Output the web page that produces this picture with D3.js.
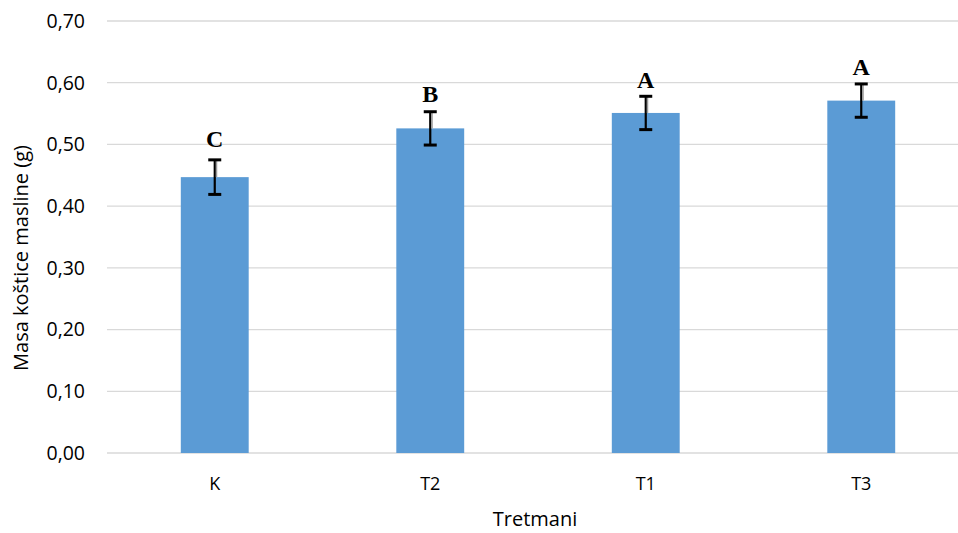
<!DOCTYPE html>
<html>
<head>
<meta charset="utf-8">
<script src="https://cdn.jsdelivr.net/npm/d3@7"></script>
<style>
  body { margin: 0; background: #fff; }
  text { font-family: "Open Sans", sans-serif; fill: #000; }
</style>
</head>
<body>
<svg id="chart" width="958" height="533"></svg>
<script>
// data
const categories = ["K", "T2", "T1", "T3"];
const means      = [0.447, 0.526, 0.551, 0.571];
const errors     = [0.028, 0.027, 0.027, 0.027];
const letters    = ["C", "B", "A", "A"];
const letterY    = [0.496, 0.568, 0.592, 0.613];
const yTicks     = [0, 0.1, 0.2, 0.3, 0.4, 0.5, 0.6, 0.7];

const svg = d3.select("#chart");

const x = d3.scaleBand()
  .domain(categories)
  .range([107, 969])
  .paddingInner(0.685)
  .paddingOuter(0.3425);

const y = d3.scaleLinear()
  .domain([0, 0.7])
  .range([453, 21]);

const fmt = d => d3.format(".2f")(d).replace(".", ",");

// gridlines
svg.append("g")
  .selectAll("line")
  .data(yTicks)
  .join("line")
    .attr("x1", 107)
    .attr("x2", 969)
    .attr("y1", d => y(d))
    .attr("y2", d => y(d))
    .style("stroke", "#d9d9d9")
    .style("stroke-width", d => d === 0 ? 1.6 : 1.3);

// y tick labels
svg.append("g")
  .selectAll("text")
  .data(yTicks)
  .join("text")
    .attr("x", 85)
    .attr("y", d => y(d))
    .attr("dy", "0.35em")
    .attr("text-anchor", "end")
    .style("font-size", "19.5px")
    .text(fmt);

// bars
svg.append("g")
  .selectAll("rect")
  .data(categories)
  .join("rect")
    .attr("x", d => x(d))
    .attr("width", x.bandwidth())
    .attr("y", (d, i) => y(means[i]))
    .attr("height", (d, i) => y(0) - y(means[i]))
    .style("fill", "#5b9bd5");

// error bars
const eg = svg.append("g");
categories.forEach((c, i) => {
  const cx = x(c) + x.bandwidth() / 2,
        hi = y(means[i] + errors[i]),
        lo = y(means[i] - errors[i]);
  eg.append("line")
    .attr("x1", cx).attr("x2", cx)
    .attr("y1", hi).attr("y2", lo)
    .style("stroke", "#000").style("stroke-width", 2.2);
  eg.append("line")
    .attr("x1", cx + 1.8).attr("x2", cx + 1.8)
    .attr("y1", hi).attr("y2", y(means[i]))
    .style("stroke", "#999").style("stroke-width", 1.4);
  [hi, lo].forEach(v => {
    eg.append("line")
      .attr("x1", cx - 6.5).attr("x2", cx + 6.5)
      .attr("y1", v).attr("y2", v)
      .style("stroke", "#000").style("stroke-width", 3);
  });
});

// significance letters
svg.append("g")
  .selectAll("text")
  .data(categories)
  .join("text")
    .attr("x", d => x(d) + x.bandwidth() / 2)
    .attr("y", (d, i) => y(letterY[i]))
    .attr("text-anchor", "middle")
    .style("font-family", "'Liberation Serif', 'Times New Roman', serif")
    .style("font-weight", "bold")
    .style("font-size", "24px")
    .text((d, i) => letters[i]);

// category labels
svg.append("g")
  .selectAll("text")
  .data(categories)
  .join("text")
    .attr("x", d => x(d) + x.bandwidth() / 2)
    .attr("y", 490)
    .attr("text-anchor", "middle")
    .style("font-size", "18px")
    .text(d => d);

// axis titles
svg.append("text")
  .attr("x", 535)
  .attr("y", 526)
  .attr("text-anchor", "middle")
  .style("font-size", "20px")
  .text("Tretmani");

svg.append("text")
  .attr("transform", "translate(28,258) rotate(-90)")
  .attr("text-anchor", "middle")
  .style("font-size", "20px")
  .text("Masa koštice masline (g)");
</script>
</body>
</html>
